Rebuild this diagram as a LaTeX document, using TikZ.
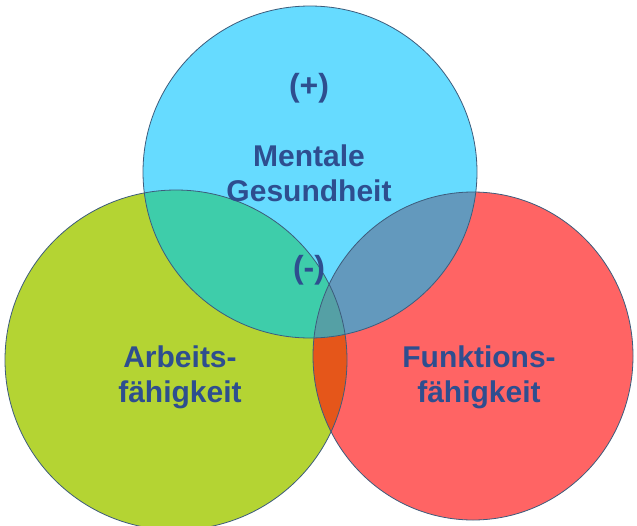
\documentclass[tikz,border=0pt]{standalone}
\usepackage{fontspec}
\setmainfont{Liberation Sans}
\definecolor{cblue}{HTML}{66DBFF}
\definecolor{cgreen}{HTML}{B4D433}
\definecolor{cred}{HTML}{FF6464}
\definecolor{cbg}{HTML}{3ECDAA}
\definecolor{cbr}{HTML}{6399BD}
\definecolor{cgr}{HTML}{E5561A}
\definecolor{cbgr}{HTML}{55A0A5}
\definecolor{ctext}{HTML}{2E4E8F}
\definecolor{cline}{HTML}{3D5C7C}
\tikzset{
  lbl/.style={font=\bfseries\fontsize{30}{35}\selectfont, text=ctext, align=center, inner sep=0pt},
  sign/.style={font=\bfseries\fontsize{32}{36}\selectfont, text=ctext, inner sep=0pt},
  rim/.style={draw=cline, line width=0.8pt}
}
\begin{document}
\begin{tikzpicture}[x=1pt,y=-1pt]
\useasboundingbox (0,0) rectangle (637,525);
\fill[white] (0,0) rectangle (637,525);
\def\G{(176,360) ellipse [x radius=171pt, y radius=170pt]}
\def\R{(473,356) ellipse [x radius=160pt, y radius=164pt]}
\def\B{(310,172) ellipse [x radius=167pt, y radius=166pt]}
\begin{scope}
\clip (0,0) rectangle (637,525);
\fill[cgreen] \G;
\fill[cred] \R;
\fill[cblue] \B;
\begin{scope}\clip \G; \fill[cgr] \R; \end{scope}
\begin{scope}\clip \G; \fill[cbg] \B; \end{scope}
\begin{scope}\clip \R; \fill[cbr] \B; \end{scope}
\begin{scope}\clip \G; \clip \R; \fill[cbgr] \B; \end{scope}
\draw[rim] \G;
\draw[rim] \R;
\draw[rim] \B;
\end{scope}
\node[sign] (plus) at (309,88) {(+)};
\node[lbl] (mg) at (309,173) {Mentale\\Gesundheit};
\node[sign] (minus) at (309,270) {(-)};
\node[lbl] (af) at (180,377) {Arbeits-\\fähigkeit};
\node[lbl] (ff) at (479,377) {Funktions-\\fähigkeit};
\end{tikzpicture}
\end{document}
